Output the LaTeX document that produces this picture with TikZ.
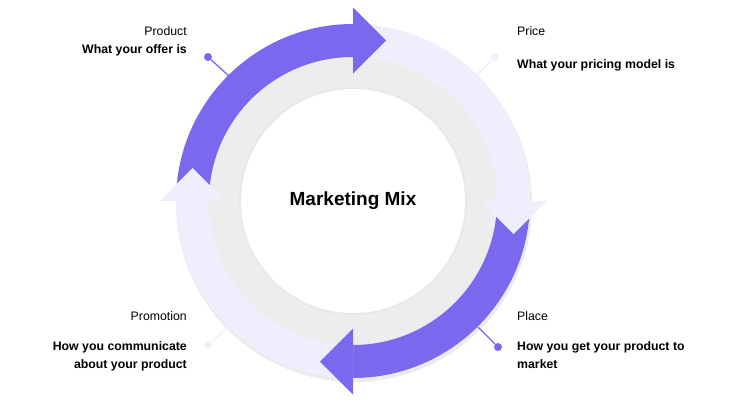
\documentclass[tikz,border=0pt]{standalone}
\usepackage{fontspec}
\setmainfont{Liberation Sans}
\usetikzlibrary{calc}
\definecolor{pur}{HTML}{7A69EE}
\definecolor{lite}{HTML}{EFEEFC}
\definecolor{disk}{HTML}{EDEDED}
\tikzset{
  lbl/.style={font=\fontsize{12.3}{14}\selectfont, inner sep=0pt},
  blbl/.style={font=\fontsize{12.3}{18}\selectfont\bfseries, inner sep=0pt},
  pindot/.style={circle, inner sep=0pt, minimum size=8pt},
}
\begin{document}
\begin{tikzpicture}[x=1pt,y=-1pt]
\useasboundingbox (0,0) rectangle (742,415);
\coordinate (C) at (353,201);
% grey disk with soft shadow
\fill[black!8] ($(C)+(1,3)$) circle[radius=178];
\fill[white] (C) circle[radius=177];
\fill[black!10] ($(C)+(0,2)$) circle[radius=145];
\fill[disk] (C) circle[radius=144];
\fill[black!9] (C) circle[radius=114];
\fill[white] (C) circle[radius=112];
% bodies
\newcommand{\seg}[3]{\fill[#1] ($(C)+(#2:177)$) arc[start angle=#2,end angle=#3,radius=177] -- ($(C)+(#3:144)$) arc[start angle=#3,end angle=#2,radius=144] -- cycle;}
\seg{pur}{-180}{-90}
\seg{lite}{-90}{0}
\seg{pur}{0}{90}
\seg{lite}{90}{180}
% heads
\fill[pur] (353,7.5) -- (386,40.5) -- (353,73.5) -- cycle;
\fill[lite] (480.5,201) -- (546.5,201) -- (513.5,234) -- cycle;
\fill[pur] (353,328.5) -- (320,361.5) -- (353,394.5) -- cycle;
\fill[lite] (225.5,201) -- (159.5,201) -- (192.5,168) -- cycle;
% center
\node[font=\fontsize{19}{22}\selectfont\bfseries] (mm) at (C) {Marketing Mix};
% pins
\node[pindot, fill=pur] (d1) at (208,57) {};
\coordinate (e1) at (229,76);
\draw[pur, line width=1.3pt] (d1) -- (e1);
\node[pindot, fill=lite] (d2) at (495,57) {};
\coordinate (e2) at (477,75);
\draw[lite, line width=1.3pt] (d2) -- (e2);
\node[pindot, fill=pur] (d3) at (498,347) {};
\coordinate (e3) at (478,327);
\draw[pur, line width=1.3pt] (d3) -- (e3);
\node[pindot, fill=lite] (d4) at (208,345) {};
\coordinate (e4) at (228,327);
\draw[lite, line width=1.3pt] (d4) -- (e4);
% labels
\node[lbl, anchor=east] (t1) at (187,31) {Product};
\node[blbl, anchor=east] (b1) at (187,50) {What your offer is};
\node[lbl, anchor=west] (t2) at (517,31) {Price};
\node[blbl, anchor=west] (b2) at (517,65) {What your pricing model is};
\node[lbl, anchor=east] (t3) at (187,316) {Promotion};
\node[blbl, anchor=north east, align=right] (b3) at (187,341) {How you communicate\\about your product};
\node[lbl, anchor=west] (t4) at (517,316) {Place};
\node[blbl, anchor=north west, align=left] (b4) at (517,341) {How you get your product to\\market};
\end{tikzpicture}
\end{document}
